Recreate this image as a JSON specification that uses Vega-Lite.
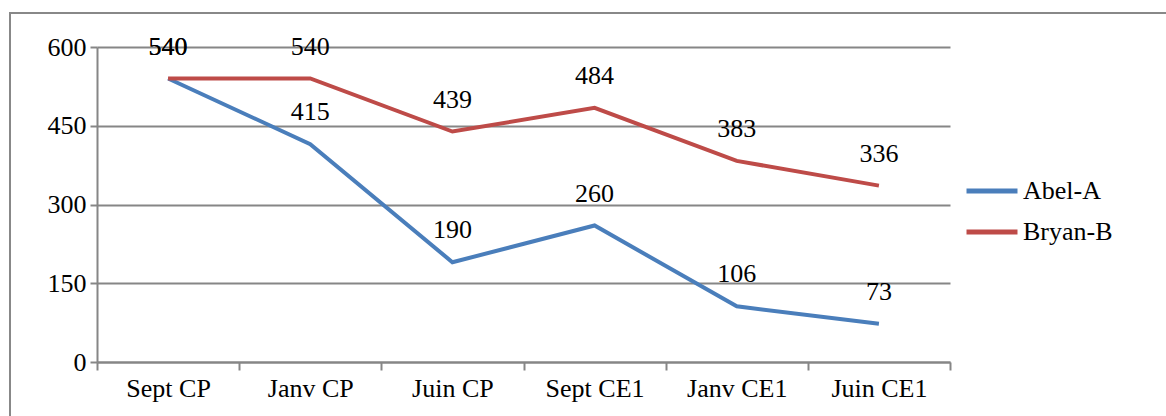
{
  "$schema": "https://vega.github.io/schema/vega-lite/v6.json",
  "autosize": {"type": "none"},
  "padding": {"left": 10, "top": 13, "right": 0, "bottom": 0},
  "width": 1170,
  "height": 420,
  "background": "white",
  "config": {
    "view": {"stroke": "#888888", "strokeWidth": 2},
    "font": "Liberation Serif"
  },
  "data": {
    "values": [
      {"period": "Sept CP", "series": "Abel-A", "value": 540},
      {"period": "Janv CP", "series": "Abel-A", "value": 415},
      {"period": "Juin CP", "series": "Abel-A", "value": 190},
      {"period": "Sept CE1", "series": "Abel-A", "value": 260},
      {"period": "Janv CE1", "series": "Abel-A", "value": 106},
      {"period": "Juin CE1", "series": "Abel-A", "value": 73},
      {"period": "Sept CP", "series": "Bryan-B", "value": 540},
      {"period": "Janv CP", "series": "Bryan-B", "value": 540},
      {"period": "Juin CP", "series": "Bryan-B", "value": 439},
      {"period": "Sept CE1", "series": "Bryan-B", "value": 484},
      {"period": "Janv CE1", "series": "Bryan-B", "value": 383},
      {"period": "Juin CE1", "series": "Bryan-B", "value": 336}
    ]
  },
  "encoding": {
    "x": {
      "field": "period",
      "type": "nominal",
      "sort": ["Sept CP", "Janv CP", "Juin CP", "Sept CE1", "Janv CE1", "Juin CE1"],
      "scale": {"range": [87, 940], "paddingInner": 0, "paddingOuter": 0},
      "axis": {
        "title": null,
        "offset": -71,
        "labelAngle": 0,
        "labelFont": "Liberation Serif",
        "labelFontSize": 26,
        "labelColor": "black",
        "labelPadding": 5,
        "domainColor": "#868686",
        "domainWidth": 2,
        "tickColor": "#868686",
        "tickWidth": 2,
        "tickSize": 8,
        "tickBand": "extent",
        "grid": false
      }
    },
    "y": {
      "field": "value",
      "type": "quantitative",
      "scale": {"domain": [0, 600], "range": [349, 34], "nice": false, "zero": true},
      "axis": {
        "title": null,
        "offset": -87,
        "values": [0, 150, 300, 450, 600],
        "labelFont": "Liberation Serif",
        "labelFontSize": 26,
        "labelColor": "black",
        "labelPadding": 4,
        "domainColor": "#868686",
        "domainWidth": 2,
        "tickColor": "#868686",
        "tickWidth": 2,
        "tickSize": 7,
        "grid": true,
        "gridColor": "#868686",
        "gridWidth": 2
      }
    }
  },
  "layer": [
    {
      "mark": {"type": "line", "strokeWidth": 4, "clip": false},
      "encoding": {
        "color": {
          "field": "series",
          "type": "nominal",
          "scale": {"domain": ["Abel-A", "Bryan-B"], "range": ["#4A7EBB", "#BE4B48"]},
          "legend": {
            "title": null,
            "orient": "none",
            "legendX": 954,
            "legendY": 150,
            "symbolType": "stroke",
            "symbolSize": 2600,
            "symbolStrokeWidth": 5,
            "rowPadding": -8,
            "labelFont": "Liberation Serif",
            "labelFontSize": 26,
            "labelColor": "black",
            "labelOffset": 3
          }
        }
      }
    },
    {
      "mark": {"type": "text", "dy": -32, "font": "Liberation Serif", "fontSize": 26, "color": "black"},
      "encoding": {"text": {"field": "value", "type": "quantitative"}}
    }
  ]
}
